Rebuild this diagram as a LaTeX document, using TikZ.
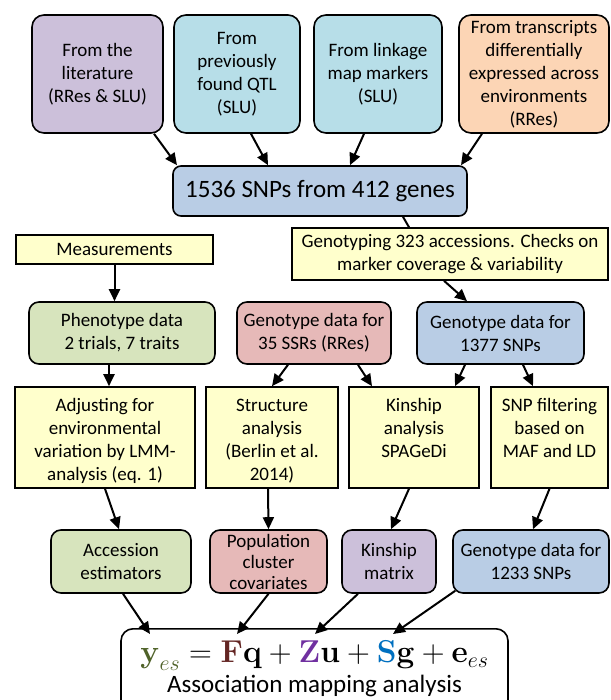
\documentclass[tikz,border=0pt]{standalone}
\usepackage[no-math]{fontspec}
\setmainfont{Carlito}
\usepackage{graphicx}
\usepackage{xcolor}
\usetikzlibrary{arrows.meta,calc}

\definecolor{lilac}{HTML}{CCC0DA}
\definecolor{aqua}{HTML}{B7DEE8}
\definecolor{peach}{HTML}{FCD5B5}
\definecolor{steel}{HTML}{B9CDE5}
\definecolor{sage}{HTML}{D7E4BD}
\definecolor{rose}{HTML}{E6B9B8}
\definecolor{cream}{HTML}{FFFFCC}
\definecolor{eqgreen}{HTML}{4F6228}
\definecolor{eqred}{HTML}{632523}
\definecolor{eqpurple}{HTML}{7030A0}
\definecolor{eqblue}{HTML}{0070C0}

\begin{document}
\begin{tikzpicture}[
  x=1pt, y=-1pt,
  >={Triangle[length=12pt,width=11pt]},
  font=\fontsize{19}{23}\selectfont,
  source/.style={
    rectangle,
    draw=black,
    line width=1.6pt,
    rounded corners=12pt,
    align=center,
    inner sep=0pt,
    minimum height=118pt
  },
  pool/.style={
    rectangle,
    draw=black,
    line width=1.6pt,
    rounded corners=8pt,
    align=center,
    inner sep=0pt,
    minimum width=294pt,
    minimum height=50pt,
    font=\fontsize{25}{30}\selectfont
  },
  task/.style={
    rectangle,
    draw=black,
    line width=1.6pt,
    align=center,
    inner sep=0pt,
    fill=cream
  },
  method/.style={
    task,
    inner ysep=0pt,
    text height=93pt,
    text depth=8pt
  },
  data/.style={
    rectangle,
    draw=black,
    line width=1.6pt,
    rounded corners=10pt,
    align=center,
    inner sep=0pt,
    minimum height=62pt
  },
  result/.style={
    data,
    minimum height=63pt
  },
  model/.style={
    rectangle,
    draw=black,
    line width=1.6pt,
    rounded corners=12pt,
    align=center,
    inner ysep=0pt,
    fill=white,
    minimum width=387pt,
    text height=64pt,
    text depth=20pt,
    font=\fontsize{25}{30}\selectfont
  },
  arr/.style={->,line width=2pt},
  link/.style={line width=2pt}
]

\useasboundingbox (0,0) rectangle (610,700);

% where the SNPs come from
\node[source, fill=lilac, minimum width=131pt] (lit) at (97.5,74) {From the\\literature\\(RRes \& SLU)};
\node[source, fill=aqua, minimum width=126pt] (qtl) at (237,74) {From\\previously\\found QTL\\(SLU)};
\node[source, fill=aqua, minimum width=128pt] (linkage) at (378,74) {From linkage\\map markers\\(SLU)};
\node[source, fill=peach, minimum width=150pt] (trans) at (534,74) {From transcripts\\differentially\\expressed across\\environments\\(RRes)};

\node[pool, fill=steel] (snps) at (320,191) {1536 SNPs from 412 genes};

\node[task, minimum width=197pt, minimum height=29pt] (meas) at (114.5,249.5) {Measurements};
\node[task, minimum width=316pt, minimum height=52pt] (genot) at (450,254) {Genotyping 323 accessions. Checks on\\marker coverage \& variability};

% data
\node[data, fill=sage, minimum width=186pt] (pheno) at (122,333) {Phenotype data\\2 trials, 7 traits};
\node[data, fill=rose, minimum width=154pt] (ssr) at (314,333) {Genotype data for\\35 SSRs (RRes)};
\node[data, fill=steel, minimum width=167pt] (snpset) at (500.5,333) {Genotype data for\\1377 SNPs};

% analyses
\node[method, minimum width=180pt] (adjust) at (105,437.5) {Adjusting for\\environmental\\variation by LMM-\\analysis (eq. 1)};
\node[method, minimum width=132pt] (struct) at (272,437.5) {Structure\\analysis\\(Berlin et al.\\2014)};
\node[method, minimum width=130pt, text height=70pt, text depth=31pt] (kinan) at (414,437.5) {Kinship\\analysis\\SPAGeDi};
\node[method, minimum width=117pt, text height=70pt, text depth=31pt] (filter) at (549.5,437.5) {SNP filtering\\based on\\MAF and LD};

% model inputs
\node[result, fill=sage, minimum width=140pt] (accest) at (121,561.5) {Accession\\estimators};
\node[result, fill=rose, minimum width=117pt, font=\fontsize{19}{21}\selectfont] (popcov) at (268.5,561.5) {Population\\cluster\\covariates};
\node[result, fill=lilac, minimum width=94pt] (kinmat) at (389,561.5) {Kinship\\matrix};
\node[result, fill=steel, minimum width=156pt] (geno) at (531,561.5) {Genotype data for\\1233 SNPs};

\node[model, anchor=north] (assoc) at (314.5,628) {\scalebox{1.27}{$\mathbf{\color{eqgreen}y}_{\color{eqgreen}es} = {\color{eqred}\mathbf{F}}\mathbf{q} + {\color{eqpurple}\mathbf{Z}}\mathbf{u} + {\color{eqblue}\mathbf{S}}\mathbf{g} + \mathbf{e}_{es}$}\\Association mapping analysis};

\draw[arr] ($(lit.south)+(56.5,0)$) -- ($(snps.north)+(-143,0)$);
\draw[arr] ($(qtl.south)+(14,0)$) -- ($(snps.north)+(-52,0)$);
\draw[arr] ($(linkage.south)+(-14,0)$) -- ($(snps.north)+(30,0)$);
\draw[arr] ($(trans.south)+(-52,0)$) -- ($(snps.north)+(141,0)$);

\draw[link] ($(snps.south)+(83,0)$) -- ($(genot.north)+(-41,0)$);
\draw[arr] (meas.south) -- (meas.south |- pheno.north);
\draw[arr] ($(genot.south)+(-6,0)$) -- ($(snpset.north)+(-33.5,0)$);

\draw[arr] ($(pheno.south)+(-13,0)$) -- ($(adjust.north)+(4,0)$);
\draw[arr] ($(ssr.south)+(-26,0)$) -- (struct.north);
\draw[arr] ($(ssr.south)+(44,0)$) -- ($(kinan.north)+(-42,0)$);
\draw[arr] ($(snpset.south)+(-35.5,0)$) -- ($(kinan.north)+(41,0)$);
\draw[arr] ($(snpset.south)+(22.5,0)$) -- ($(filter.north)+(-16.5,0)$);

\draw[arr] (adjust.south) -- ($(accest.north)+(-2,0)$);
\draw[arr] ($(struct.south)+(-4,0)$) -- (popcov.north);
\draw[arr] ($(kinan.south)+(-5,0)$) -- ($(kinmat.north)+(2,0)$);
\draw[arr] (filter.south) -- ($(geno.north)+(2,0)$);

\draw[arr] ($(accest.south)+(2,0)$) -- ($(assoc.north)+(-164.5,6)$);
\draw[arr] (popcov.south) -- ($(assoc.north)+(-77.5,6)$);
\draw[arr] ($(kinmat.south)+(-31,0)$) -- ($(assoc.north)+(0.5,6)$);
\draw[arr] ($(geno.south west)+(3,-3)$) -- ($(assoc.north)+(78.5,6)$);

\end{tikzpicture}
\end{document}
